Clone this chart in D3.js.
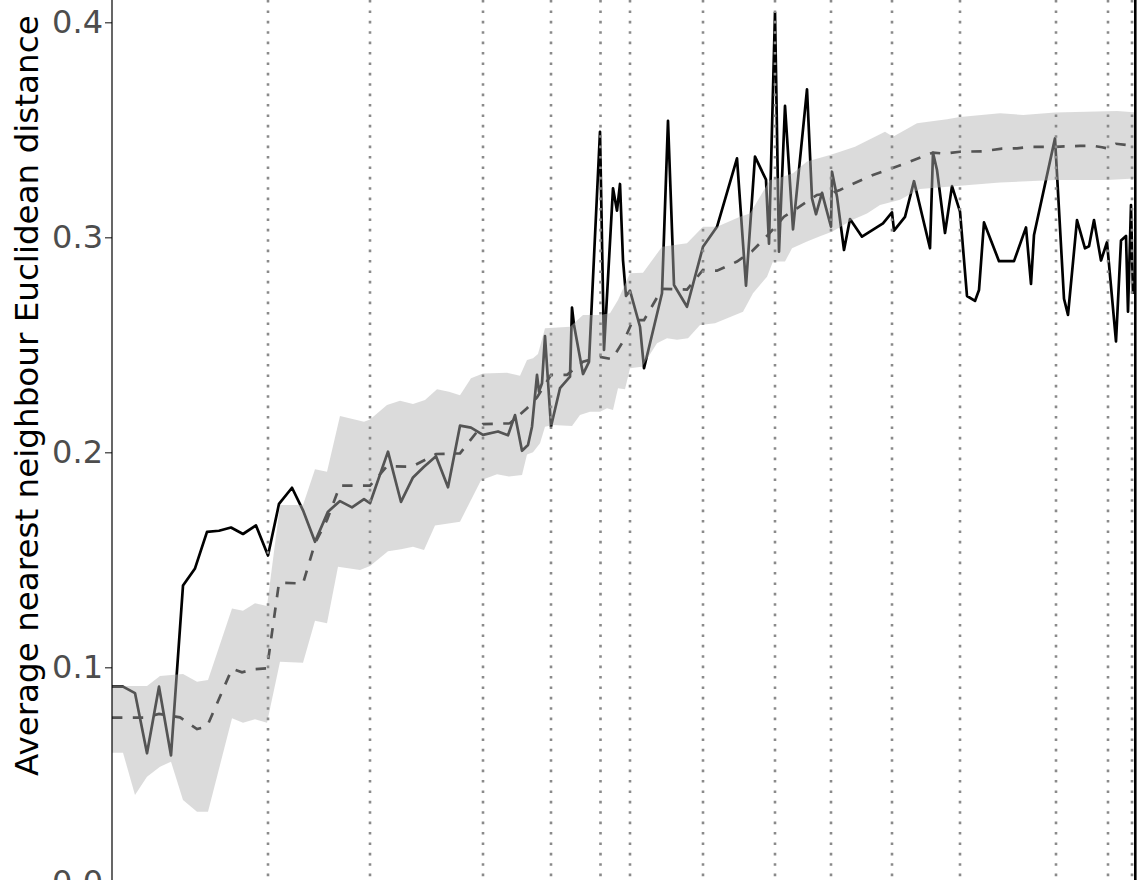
<!DOCTYPE html>
<html>
<head>
<meta charset="utf-8">
<script src="https://cdn.jsdelivr.net/npm/d3@7"></script>
<style>
  html, body { margin: 0; padding: 0; background: #ffffff; }
  svg { display: block; }
</style>
</head>
<body>
<svg id="chart" width="1145" height="880"></svg>
<script>
// Observed series: time and average nearest-neighbour distance
const obsTime = [0.0, 1.1, 2.3, 3.5, 4.7, 5.9, 7.1, 8.3, 9.5, 10.7, 11.9, 13.1, 14.4, 15.6, 16.7, 18.0, 19.1, 20.3, 21.6, 22.8,
  24.0, 25.2, 25.8, 27.6, 28.9, 30.1, 31.2, 32.4, 33.6, 34.8, 35.9, 37.1, 38.6, 39.6, 40.3, 41.0, 41.6, 42.0, 42.5, 42.7,
  43.0, 43.3, 43.9, 44.8, 45.8, 46.0, 46.2, 47.1, 47.7, 48.8, 49.2, 50.1, 50.5, 50.8, 51.1, 51.4, 51.8, 52.8, 53.2, 55.0,
  55.6, 56.2, 57.5, 59.1, 60.5, 62.5, 63.4, 64.3, 65.4, 65.7, 66.3, 66.7, 67.3, 68.1, 69.5, 70.0, 70.4, 71.0, 71.9, 72.0,
  72.5, 73.2, 73.8, 75.0, 77.1, 78.0, 78.2, 79.3, 80.2, 81.8, 82.1, 82.5, 83.3, 84.0, 84.8, 85.5, 86.3, 86.7, 87.2, 88.7,
  90.2, 91.4, 91.9, 92.2, 94.3, 95.2, 95.6, 96.5, 97.3, 97.7, 98.2, 98.9, 99.5, 100.4, 100.9, 101.4, 101.6, 101.9, 102.1];
const obsValue = [0.091, 0.091, 0.088, 0.060, 0.091, 0.059, 0.138, 0.146, 0.163, 0.1635, 0.165, 0.162, 0.166, 0.152, 0.176, 0.1835, 0.173, 0.1584, 0.1724, 0.1773,
  0.1744, 0.1782, 0.1763, 0.2003, 0.1769, 0.1883, 0.1933, 0.1982, 0.1837, 0.2124, 0.2115, 0.2081, 0.2097, 0.2079, 0.2173, 0.2007, 0.2034, 0.2119, 0.2360, 0.2282,
  0.2321, 0.2540, 0.2120, 0.2298, 0.2352, 0.2673, 0.2592, 0.2364, 0.2421, 0.3491, 0.2476, 0.3228, 0.3124, 0.3248, 0.2894, 0.2727, 0.2752, 0.2584, 0.2391, 0.2740,
  0.3542, 0.2778, 0.2677, 0.2956, 0.3049, 0.3367, 0.2775, 0.3375, 0.3268, 0.2970, 0.4045, 0.2933, 0.3611, 0.3037, 0.3688, 0.3181, 0.3107, 0.3207, 0.3049, 0.3305,
  0.3189, 0.2941, 0.3085, 0.3003, 0.3065, 0.3116, 0.3031, 0.3095, 0.3261, 0.2949, 0.3393, 0.3313, 0.3020, 0.3238, 0.3119, 0.2727, 0.2704, 0.2755, 0.3069, 0.2889,
  0.2889, 0.3046, 0.2783, 0.3011, 0.3460, 0.2714, 0.2639, 0.3080, 0.2949, 0.2958, 0.3080, 0.2892, 0.2977, 0.2516, 0.2985, 0.3006, 0.2654, 0.3150, 0.2736];

// Null model: mean distance
const nullTime = [0.0, 3.2, 4.7, 6.8, 7.8, 8.5, 9.5, 12.0, 13.0, 14.2, 15.5, 16.7, 19.1, 20.3, 21.5, 22.8, 25.8, 27.5, 30.0, 32.4,
  34.8, 37.1, 39.8, 41.5, 42.5, 43.9, 45.5, 47.1, 48.8, 50.0, 51.3, 52.1, 53.2, 55.0, 57.5, 59.1, 60.5, 62.5, 64.0, 65.6,
  67.2, 68.5, 70.5, 72.0, 72.8, 73.8, 76.1, 78.0, 79.5, 82.1, 83.3, 84.8, 87.0, 89.0, 90.5, 92.1, 94.3, 96.8, 98.2, 99.0,
  99.5, 100.4, 102.2];
const nullMean = [0.0766, 0.0766, 0.0783, 0.0767, 0.0735, 0.0713, 0.0724, 0.0993, 0.0977, 0.0991, 0.0995, 0.1393, 0.1390, 0.1577, 0.1685, 0.1845, 0.1845, 0.1935, 0.1933, 0.1992,
  0.1995, 0.2131, 0.2135, 0.2205, 0.2255, 0.2360, 0.2360, 0.2421, 0.2444, 0.2433, 0.2530, 0.2615, 0.2615, 0.2760, 0.2757, 0.2848, 0.2845, 0.2887, 0.2935, 0.3011,
  0.3096, 0.3135, 0.3197, 0.3207, 0.3220, 0.3243, 0.3290, 0.3321, 0.3347, 0.3394, 0.3389, 0.3398, 0.3400, 0.3412, 0.3414, 0.3421, 0.3421, 0.3425, 0.3425, 0.3419,
  0.3414, 0.3435, 0.3425];

// Null model: upper edge of the envelope
const upperTime = [0.0, 3.5, 4.8, 7.1, 8.5, 9.6, 12.0, 13.1, 14.3, 15.5, 16.8, 19.1, 20.3, 21.5, 22.8, 25.2, 25.8, 27.5, 28.8, 30.1,
  31.3, 32.5, 33.7, 34.8, 35.9, 37.1, 39.5, 40.8, 41.5, 42.1, 42.6, 43.3, 45.8, 47.1, 48.8, 49.8, 50.6, 51.8, 53.1, 55.0,
  57.5, 59.1, 60.5, 62.8, 63.8, 65.8, 66.8, 68.1, 69.5, 71.8, 72.8, 74.3, 77.3, 78.1, 80.5, 83.5, 84.8, 88.8, 91.1, 94.3,
  100.5, 102.2];
const upperValue = [0.0913, 0.0913, 0.0960, 0.0969, 0.0933, 0.0941, 0.1274, 0.1263, 0.1298, 0.1285, 0.1755, 0.1755, 0.1921, 0.1910, 0.2169, 0.2142, 0.2153, 0.2220, 0.2240, 0.2225,
  0.2243, 0.2293, 0.2282, 0.2265, 0.2344, 0.2367, 0.2370, 0.2356, 0.2429, 0.2437, 0.2457, 0.2577, 0.2584, 0.2639, 0.2639, 0.2647, 0.2708, 0.2833, 0.2835, 0.2956,
  0.2972, 0.3049, 0.3049, 0.3096, 0.3111, 0.3267, 0.3277, 0.3298, 0.3352, 0.3383, 0.3398, 0.3421, 0.3491, 0.3468, 0.3530, 0.3549, 0.3560, 0.3577, 0.3569, 0.3580,
  0.3587, 0.3582];

// Null model: lower edge of the envelope
const lowerTime = [0.0, 1.1, 2.3, 3.5, 4.8, 5.9, 7.1, 8.5, 9.6, 12.0, 13.1, 14.3, 15.5, 16.8, 19.1, 20.3, 21.5, 22.6, 24.8, 25.8,
  27.6, 28.9, 30.1, 31.2, 32.3, 34.8, 36.9, 38.5, 39.7, 41.0, 41.5, 42.1, 42.8, 43.3, 44.1, 46.0, 46.8, 47.8, 48.8, 49.5,
  50.1, 50.6, 51.3, 51.8, 53.0, 54.5, 55.5, 56.5, 57.6, 58.8, 60.3, 63.1, 64.1, 65.5, 66.1, 67.3, 68.0, 69.5, 70.8, 72.0,
  74.0, 75.5, 76.8, 78.8, 80.8, 84.8, 88.8, 94.3, 99.5, 102.2];
const lowerValue = [0.0603, 0.0603, 0.0406, 0.0491, 0.0538, 0.0561, 0.0383, 0.0328, 0.0328, 0.0763, 0.0742, 0.0758, 0.0742, 0.1026, 0.1021, 0.1216, 0.1205, 0.1468, 0.1453, 0.1471,
  0.1540, 0.1549, 0.1561, 0.1546, 0.1660, 0.1677, 0.1870, 0.1898, 0.1887, 0.1895, 0.1990, 0.2000, 0.2042, 0.2119, 0.2127, 0.2122, 0.2173, 0.2189, 0.2189, 0.2205,
  0.2197, 0.2298, 0.2293, 0.2391, 0.2398, 0.2507, 0.2530, 0.2523, 0.2530, 0.2592, 0.2600, 0.2654, 0.2740, 0.2817, 0.2887, 0.2887, 0.2949, 0.2980, 0.3005, 0.3026,
  0.3080, 0.3111, 0.3150, 0.3175, 0.3225, 0.3240, 0.3255, 0.3267, 0.3267, 0.3274];

// Times of marked events (vertical reference lines)
const eventTimes = [15.6, 25.8, 37.1, 43.9, 48.85, 51.8, 59.1, 66.3, 71.9, 78.0, 84.8, 94.4, 99.6, 102.0];

const yTicks = [0.0, 0.1, 0.2, 0.3, 0.4];
const yTitle = "Average nearest neighbour Euclidean distance";

const W = 1145, H = 880;
const plotLeft = 112, plotRight = 1134;
const svg = d3.select("#chart");
svg.append("rect").attr("width", W).attr("height", H).attr("fill", "#ffffff");

const x = d3.scaleLinear().domain([0, 103]).range([112, 1142]);
const y = d3.scaleLinear().domain([0, 0.4]).range([882.3, 22.3]);

svg.append("defs").append("clipPath").attr("id", "panel")
  .append("rect").attr("x", plotLeft).attr("y", 0)
  .attr("width", plotRight - plotLeft).attr("height", H);

const panel = svg.append("g").attr("clip-path", "url(#panel)");

const obs = obsTime.map((t, i) => [t, obsValue[i]]);
const mean = nullTime.map((t, i) => [t, nullMean[i]]);
const upper = upperTime.map((t, i) => [t, upperValue[i]]);
const lower = lowerTime.map((t, i) => [t, lowerValue[i]]);

const line = d3.line().x(d => x(d[0])).y(d => y(d[1]));

// observed trajectory
panel.append("path").datum(obs)
  .attr("d", line)
  .attr("fill", "none").attr("stroke", "#000000")
  .attr("stroke-width", 2.7).attr("stroke-linejoin", "round");

// null-model mean
panel.append("path").datum(mean)
  .attr("d", line)
  .attr("fill", "none").attr("stroke", "#000000")
  .attr("stroke-width", 2.7).attr("stroke-dasharray", "10.4,10.4");

// null-model envelope, translucent, over the lines
const envelope = upper.concat(lower.slice().reverse());
panel.append("path").datum(envelope)
  .attr("d", d => line(d) + "Z")
  .attr("fill", "#b3b3b3").attr("fill-opacity", 0.47).attr("stroke", "none");

// event markers
panel.selectAll("line.event").data(eventTimes).enter().append("line")
  .attr("class", "event")
  .attr("x1", d => x(d)).attr("x2", d => x(d))
  .attr("y1", 0).attr("y2", H)
  .attr("stroke", "#8a8a8a").attr("stroke-width", 2.6)
  .attr("stroke-dasharray", "2.6,7.8");

// y axis
const yAxis = d3.axisLeft(y).tickValues(yTicks).tickFormat(d3.format(".1f"))
  .tickSize(7).tickPadding(2).tickSizeOuter(0);
const ga = svg.append("g").attr("transform", `translate(${plotLeft},0)`).call(yAxis);
ga.select(".domain").remove();
ga.selectAll(".tick line").attr("stroke", "#333333").attr("stroke-width", 1.2);
ga.selectAll(".tick text")
  .attr("fill", "#4d4d4d")
  .style("font-family", "'DejaVu Sans', Verdana, sans-serif")
  .style("font-size", "32px");
svg.append("line")
  .attr("x1", plotLeft).attr("x2", plotLeft).attr("y1", 0).attr("y2", H)
  .attr("stroke", "#000000").attr("stroke-width", 1.2);

// right-hand frame edge
svg.append("line")
  .attr("x1", plotRight + 1.3).attr("x2", plotRight + 1.3).attr("y1", 0).attr("y2", H)
  .attr("stroke", "#000000").attr("stroke-width", 2.6);

// y axis title
svg.append("text")
  .attr("transform", "translate(37.5,776) rotate(-90)")
  .attr("text-anchor", "start")
  .attr("fill", "#000000")
  .style("font-family", "'DejaVu Sans', Verdana, sans-serif")
  .style("font-size", "32.6px")
  .text(yTitle);
</script>
</body>
</html>
